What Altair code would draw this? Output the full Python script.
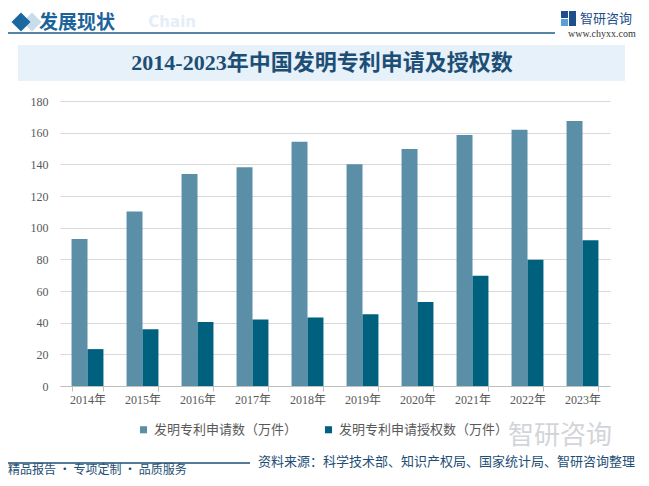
import altair as alt
import pandas as pd

years = ["2014年", "2015年", "2016年", "2017年", "2018年",
         "2019年", "2020年", "2021年", "2022年", "2023年"]
applications = [92.8, 110.2, 133.9, 138.2, 154.2, 140.1, 149.7, 158.6, 161.9, 167.4]
grants = [23.3, 35.9, 40.4, 42.0, 43.2, 45.3, 53.0, 69.6, 79.8, 92.1]
series = ["发明专利申请数（万件）", "发明专利申请授权数（万件）"]
colors = ["#5b8fa8", "#00617f"]
y_ticks = [0, 20, 40, 60, 80, 100, 120, 140, 160, 180]

title_text = "2014-2023年中国发明专利申请及授权数"
header_text = "发展现状"
source_text = "资料来源：科学技术部、知识产权局、国家统计局、智研咨询整理"
slogan_text = "精品报告 · 专项定制 · 品质服务"

rows = []
for i, y in enumerate(years):
    rows.append({"year": y, "series": series[0], "value": applications[i]})
    rows.append({"year": y, "series": series[1], "value": grants[i]})
df = pd.DataFrame(rows)

SERIF = "Liberation Serif, Noto Sans CJK SC"
SANS = "Noto Sans CJK SC"
W, H = 550, 285

bars = alt.Chart(df).mark_bar().encode(
    x=alt.X("year:N", sort=years, title=None,
            scale=alt.Scale(paddingInner=0.42, paddingOuter=0.21),
            axis=alt.Axis(labelAngle=0, labelFontSize=12, labelColor="#595959",
                          labelFont=SERIF, domainColor="#bfbfbf", tickColor="#bfbfbf",
                          tickSize=5, tickBand="extent", labelPadding=3, grid=False)),
    xOffset=alt.XOffset("series:N", sort=series),
    y=alt.Y("value:Q", title=None,
            scale=alt.Scale(domain=[0, 180], nice=False),
            axis=alt.Axis(values=y_ticks, labelFontSize=12, labelColor="#595959",
                          labelFont=SERIF, domain=False, ticks=False, labelPadding=12,
                          gridColor="#d9d9d9", gridWidth=1)),
    color=alt.Color("series:N", sort=series,
                    scale=alt.Scale(domain=series, range=colors),
                    legend=alt.Legend(title=None, orient="none", legendX=77, legendY=322,
                                      direction="horizontal", symbolType="square",
                                      symbolSize=50, symbolStrokeWidth=0,
                                      labelFontSize=13, labelColor="#595959",
                                      labelFont=SANS, labelLimit=400, columnPadding=24)),
)

one = pd.DataFrame({"k": [0]})


def rect(x1, x2, y1, y2, color, opacity=1.0):
    return alt.Chart(one).mark_rect(color=color, opacity=opacity).encode(
        x=alt.value(x1), x2=alt.value(x2), y=alt.value(y1), y2=alt.value(y2))


def rule(x1, x2, y, color, width):
    return alt.Chart(one).mark_rule(color=color, strokeWidth=width).encode(
        x=alt.value(x1), x2=alt.value(x2), y=alt.value(y))


def text(t, x, y, size, color, font=SANS, weight="normal", align="left", opacity=1.0):
    return alt.Chart(pd.DataFrame({"t": [t]})).mark_text(
        fontSize=size, color=color, font=font, fontWeight=weight, align=align,
        baseline="middle", opacity=opacity).encode(
        x=alt.value(x), y=alt.value(y), text="t:N")


def diamond(x, y, color, size):
    return alt.Chart(one).mark_point(shape="diamond", filled=True, color=color,
                                     size=size, opacity=1).encode(
        x=alt.value(x), y=alt.value(y))


decor = [
    # header
    text("Chain", 136, -79, 15, "#e3eef7", font="DejaVu Sans", weight="bold", align="right"),
    diamond(-28, -79, "#c9dcea", 360),
    diamond(-39, -79, "#1b67a0", 360),
    text(header_text, -21, -78, 19, "#1b6399", weight="bold"),
    rule(-52, 495, -68, "#1d5c8a", 1.5),
    # logo
    rect(501, 508, -90, -83, "#1f4e8c"),
    rect(501, 508, -82, -75, "#5aa0d8"),
    rect(509, 516, -90, -75, "#1f4e8c"),
    text("智研咨询", 520, -82, 13, "#1d4e8a"),
    text("www.chyxx.com", 508, -67, 10, "#333333", font="Liberation Serif"),
    # title band
    rect(-42, 565, -56, -20, "#e6f1f9"),
    text(title_text, 262, -38, 22, "#1d4e75", font=SERIF, weight="bold", align="center"),
    # watermark
    text("智研咨询", 448, 335, 26, "#c4c8cc", opacity=0.75),
    # footer
    rule(-52, 190, 362, "#1d4e75", 1.5),
    text(source_text, 198, 361, 13, "#1d4e75"),
    text(slogan_text, -52, 369, 12, "#1d4e75"),
]

chart = alt.layer(bars, *decor).properties(
    width=W, height=H,
    autosize=alt.AutoSizeParams(type="none"),
    padding={"left": 52, "top": 93, "right": 31, "bottom": 92},
    background="white",
).configure_view(stroke=None)

chart.save("out.html", embed_options={"renderer": "svg", "actions": False})
